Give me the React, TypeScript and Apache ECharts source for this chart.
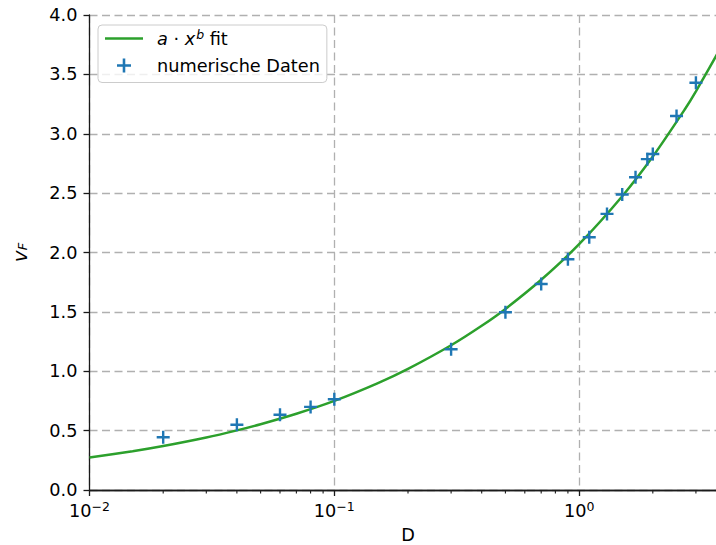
import React, { useEffect, useRef } from "react";
import * as echarts from "echarts";

// numerische Daten (D, v_F)
const dataD = [0.02, 0.04, 0.06, 0.08, 0.1, 0.3, 0.5, 0.7, 0.9, 1.1, 1.3, 1.5, 1.7, 1.9, 2.0, 2.5, 3.0];
const dataV = [0.444, 0.55, 0.634, 0.70, 0.764, 1.185, 1.497, 1.735, 1.943, 2.129, 2.325, 2.488, 2.634, 2.786, 2.83, 3.15, 3.43];

// a·x^b fit curve
const fitD = [0.01, 0.015, 0.02, 0.03, 0.04, 0.05, 0.07, 0.1, 0.15, 0.2, 0.3, 0.4, 0.5, 0.7, 1.0, 1.5, 2.0, 2.7, 3.0, 4.0];
const fitV = [0.273, 0.326, 0.37, 0.442, 0.502, 0.554, 0.642, 0.75, 0.898, 1.02, 1.219, 1.383, 1.525, 1.77, 2.07, 2.474, 2.808, 3.204, 3.357, 3.81];

// minor tick positions of the log axis
const minorTickD = [0.02, 0.03, 0.04, 0.05, 0.06, 0.07, 0.08, 0.09, 0.2, 0.3, 0.4, 0.5, 0.6, 0.7, 0.8, 0.9, 2, 3, 4];

const yTicks = { min: 0, max: 4, interval: 0.5 };
const xRange = { min: 0.01, max: 4 };

const FONT = "DejaVu Sans";
const FS = 17.7;
const AX = "#1a1a1a";
const PLUS = "path://M5.3,0H7.7V13H5.3z M0,5.3H13V7.7H0z";

export default function App() {
  const ref = useRef<HTMLDivElement>(null);
  useEffect(() => {
    if (!ref.current) return;
    const chart = echarts.init(ref.current, null, { renderer: "svg" });
    const gridDash = { color: "#b0b0b0", width: 1.3, type: [8, 4.5] as any };
    chart.setOption({
      animation: false,
      textStyle: { fontFamily: FONT },
      grid: { left: 89.5, top: 15, width: 637, height: 475, containLabel: false, outerBoundsMode: "none" },
      legend: {
        left: 98,
        top: 25,
        orient: "vertical",
        padding: [3, 7, 7, 7],
        itemGap: 7,
        itemWidth: 38,
        itemHeight: 14,
        backgroundColor: "rgba(255,255,255,0.8)",
        borderColor: "#cccccc",
        borderWidth: 1,
        borderRadius: 4,
        data: [
          { name: "fit", icon: "path://M0,0H38V2.5H0z" },
          { name: "numerische Daten", icon: PLUS },
        ],
        formatter: (name: string) => (name === "fit" ? "{i|a} · {i|x}{sup|b} fit" : name),
        textStyle: {
          fontFamily: FONT,
          fontSize: FS,
          color: "#000",
          padding: [0, 0, 0, 9],
          lineHeight: 20,
          rich: {
            i: { fontFamily: FONT, fontSize: FS, fontStyle: "italic", color: "#000" },
            sup: { fontFamily: FONT, fontSize: 12.5, fontStyle: "italic", color: "#000", padding: [0, 0, 8, 1] },
          },
        },
      },
      xAxis: [
        {
          type: "log",
          logBase: 10,
          min: xRange.min,
          max: xRange.max,
          name: "D",
          nameLocation: "middle",
          nameGap: 37,
          nameTextStyle: { fontFamily: FONT, fontSize: FS, color: "#000", lineHeight: 15 },
          axisLine: { show: true, onZero: false, lineStyle: { color: AX, width: 1.3 } },
          axisTick: { show: true, length: 6, lineStyle: { color: AX, width: 1.3 } },
          axisLabel: {
            margin: 10,
            showMaxLabel: false,
            fontFamily: FONT,
            fontSize: FS,
            color: "#000",
            formatter: (v: number) => "{b|10}{s|" + String(Math.round(Math.log10(v))).replace("-", "−") + "}",
            rich: {
              b: { fontFamily: FONT, fontSize: FS, color: "#000" },
              s: { fontFamily: FONT, fontSize: 12.5, color: "#000", padding: [0, 0, 8, 0] },
            },
          },
          splitLine: { show: true, lineStyle: gridDash },
        },
        {
          type: "log",
          logBase: 10,
          min: xRange.min,
          max: xRange.max,
          position: "top",
          axisLine: { show: true, lineStyle: { color: AX, width: 1.3 } },
          axisTick: { show: false },
          axisLabel: { show: false },
          splitLine: { show: false },
        },
      ],
      yAxis: {
        type: "value",
        min: yTicks.min,
        max: yTicks.max,
        interval: yTicks.interval,
        name: "{i|v}{sub|F}",
        nameLocation: "middle",
        nameRotate: 90,
        nameGap: 60,
        nameTextStyle: {
          fontFamily: FONT,
          fontSize: FS,
          color: "#000",
          rich: {
            i: { fontFamily: FONT, fontSize: 20, fontStyle: "italic", color: "#000" },
            sub: { fontFamily: FONT, fontSize: 13, fontStyle: "italic", color: "#000", padding: [6, 0, 0, 0] },
          },
        },
        axisLine: { show: true, lineStyle: { color: AX, width: 1.3 } },
        axisTick: { show: true, length: 6, lineStyle: { color: AX, width: 1.3 } },
        axisLabel: {
          margin: 12,
          fontFamily: FONT,
          fontSize: FS,
          color: "#000",
          formatter: (v: number) => v.toFixed(1),
        },
        splitLine: { show: true, lineStyle: gridDash },
      },
      series: [
        {
          name: "minorTicks",
          type: "custom",
          xAxisIndex: 0,
          yAxisIndex: 0,
          silent: true,
          clip: false,
          legendHoverLink: false,
          data: minorTickD.map((d) => [d, 0]),
          renderItem: (params: any, api: any) => {
            const p = api.coord([api.value(0), 0]);
            return {
              type: "line",
              shape: { x1: p[0], y1: p[1], x2: p[0], y2: p[1] + 3.5 },
              style: { stroke: AX, lineWidth: 1.1 },
            };
          },
          z: 5,
        },
        {
          name: "fit",
          type: "line",
          xAxisIndex: 0,
          data: fitD.map((d, i) => [d, fitV[i]]),
          smooth: 0.3,
          showSymbol: false,
          symbol: "none",
          lineStyle: { color: "#2ca02c", width: 2.5 },
          itemStyle: { color: "#2ca02c" },
          z: 3,
        },
        {
          name: "numerische Daten",
          type: "scatter",
          xAxisIndex: 0,
          data: dataD.map((d, i) => [d, dataV[i]]),
          symbol: PLUS,
          symbolSize: 13,
          itemStyle: { color: "#1f77b4", opacity: 1 },
          z: 4,
        },
      ],
    });
    return () => chart.dispose();
  }, []);
  return (
    <div
      ref={ref}
      style={{ position: "absolute", left: 0, top: 0, width: 716, height: 545, overflow: "hidden", background: "#fff" }}
    />
  );
}
